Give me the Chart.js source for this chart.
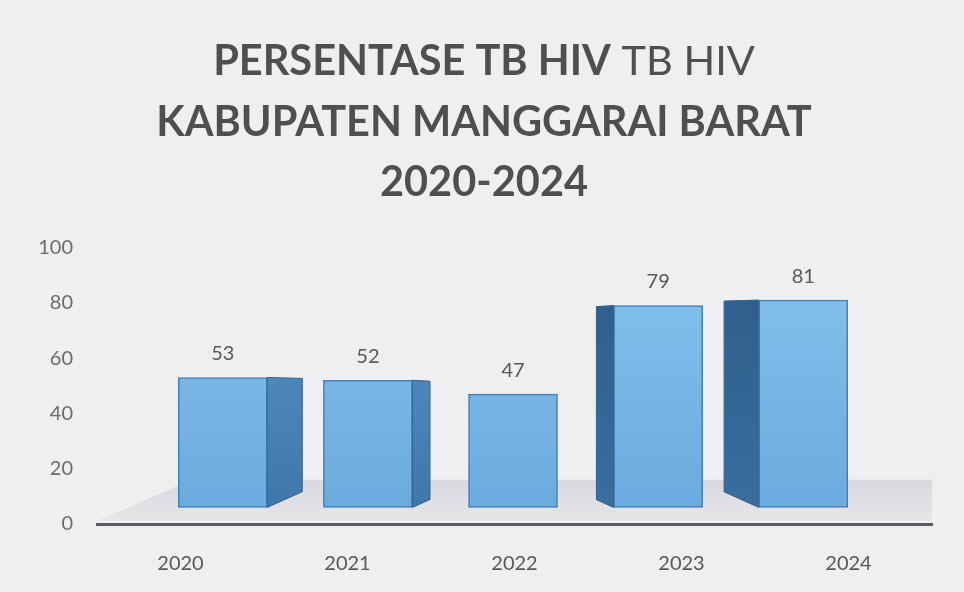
<!DOCTYPE html>
<html>
<head>
<meta charset="utf-8">
<script src="https://cdn.jsdelivr.net/npm/chart.js@4"></script>
<style>
  html,body{margin:0;padding:0;background:#efeff1;}
  #wrap{width:964px;height:592px;position:relative;}
</style>
</head>
<body>
<div id="wrap"><canvas id="c" width="964" height="592"></canvas></div>
<script>
const categories = ['2020', '2021', '2022', '2023', '2024'];
const values = [53, 52, 47, 79, 81];
const yTickValues = [0, 20, 40, 60, 80, 100];
const titleFirstBold = 'PERSENTASE TB HIV';
const titleFirstRegular = ' TB HIV';
const titleLines = ['KABUPATEN MANGGARAI BARAT', '2020-2024'];

const FONT = 'Lato, "Open Sans", sans-serif';
const TITLE_SIZE = 41.5;
const TITLE_COLOR = '#4f4f52';

const bgPlugin = {
  id: 'bg',
  beforeDraw(chart) {
    const ctx = chart.ctx;
    ctx.save();
    ctx.fillStyle = '#efeff1';
    ctx.fillRect(0, 0, chart.width, chart.height);
    ctx.restore();
  }
};

// first title line: bold part followed by a regular-weight part
const titleLinePlugin = {
  id: 'titleLine',
  afterDraw(chart) {
    const ctx = chart.ctx;
    const tb = chart.titleBlock;
    const cx = tb.left + tb.width / 2;
    const cy = tb.top + 32 + TITLE_SIZE * 1.45 / 2;
    ctx.save();
    ctx.textBaseline = 'middle';
    ctx.textAlign = 'left';
    const fb = 'bold ' + TITLE_SIZE + 'px ' + FONT;
    const fr = 'normal ' + TITLE_SIZE + 'px ' + FONT;
    ctx.font = fb; const wb = ctx.measureText(titleFirstBold).width;
    ctx.font = fr; const wr = ctx.measureText(titleFirstRegular).width;
    const x0 = cx - (wb + wr) / 2;
    ctx.fillStyle = TITLE_COLOR;
    ctx.font = fb; ctx.fillText(titleFirstBold, x0, cy);
    ctx.font = fr; ctx.fillText(titleFirstRegular, x0 + wb, cy);
    ctx.restore();
  }
};

const floorPlugin = {
  id: 'floor',
  beforeDatasetsDraw(chart) {
    const {ctx, chartArea, scales} = chart;
    const yb = scales.y.getPixelForValue(0) - 3;
    const yt = scales.y.getPixelForValue(16);
    ctx.save();
    const g = ctx.createLinearGradient(0, yt, 0, yb);
    g.addColorStop(0, '#d9d9dd');
    g.addColorStop(1, '#e6e6e9');
    ctx.fillStyle = g;
    ctx.beginPath();
    ctx.moveTo(chartArea.left, yb);
    ctx.lineTo(chartArea.left + 95, yt);
    ctx.lineTo(chartArea.right, yt);
    ctx.lineTo(chartArea.right, yb);
    ctx.closePath();
    ctx.fill();
    ctx.restore();
  }
};

const sidePlugin = {
  id: 'sides',
  afterDatasetsDraw(chart) {
    const {ctx, chartArea} = chart;
    const meta = chart.getDatasetMeta(0);
    const cx = (chartArea.left + chartArea.right) / 2;
    ctx.save();
    meta.data.forEach((bar, i) => {
      const p = bar.getProps(['x', 'y', 'base', 'width'], true);
      const d = (cx - p.x) * 0.12;
      if (Math.abs(d) < 3) return;
      const edge = d > 0 ? p.x + p.width / 2 : p.x - p.width / 2;
      const back = edge + d;
      const dy = Math.abs(d) * 0.45;
      const g = ctx.createLinearGradient(0, p.y, 0, p.base);
      if (d > 0) { g.addColorStop(0, '#4d86bb'); g.addColorStop(1, '#3f77aa'); }
      else { g.addColorStop(0, '#2f5f8c'); g.addColorStop(1, '#3a6e9e'); }
      ctx.fillStyle = g;
      ctx.strokeStyle = '#2f6190';
      ctx.lineWidth = 1;
      ctx.beginPath();
      ctx.moveTo(edge, p.y);
      ctx.lineTo(back, p.y + 1);
      ctx.lineTo(back, p.base - dy);
      ctx.lineTo(edge, p.base);
      ctx.closePath();
      ctx.fill();
      ctx.stroke();
    });
    // value labels
    ctx.fillStyle = '#585858';
    ctx.font = '20px ' + FONT;
    ctx.textAlign = 'center';
    ctx.textBaseline = 'middle';
    meta.data.forEach((bar, i) => {
      const p = bar.getProps(['x', 'y'], true);
      ctx.fillText(String(values[i]), p.x, p.y - 24);
    });
    ctx.restore();
  }
};

const ctx = document.getElementById('c').getContext('2d');
const faceGrad = (context) => {
  const chart = context.chart;
  const {chartArea} = chart;
  if (!chartArea) return '#6fb0e6';
  const g = chart.ctx.createLinearGradient(0, chartArea.top, 0, chartArea.bottom);
  g.addColorStop(0, '#86c3ee');
  g.addColorStop(1, '#6aa9de');
  return g;
};

new Chart(ctx, {
  type: 'bar',
  data: {
    labels: categories,
    datasets: [{
      data: values.map((v, i) => ({x: i, y: v})),
      xAxisID: 'xb',
      yAxisID: 'y',
      base: 6,
      backgroundColor: faceGrad,
      borderColor: '#3f7fba',
      borderWidth: 1.5,
      borderSkipped: false,
      barThickness: 89
    }]
  },
  plugins: [bgPlugin, floorPlugin, sidePlugin, titleLinePlugin],
  options: {
    responsive: false,
    animation: false,
    devicePixelRatio: 1,
    layout: { padding: { left: 36, right: 32, top: 0, bottom: 9 } },
    plugins: {
      legend: { display: false },
      tooltip: { enabled: false },
      title: {
        display: true,
        text: titleLines,
        color: TITLE_COLOR,
        font: { family: FONT, size: TITLE_SIZE, weight: 'bold', lineHeight: 1.45 },
        padding: { top: 32 + TITLE_SIZE * 1.45, bottom: 35 }
      }
    },
    scales: {
      y: {
        min: 0, max: 100,
        afterBuildTicks(scale) { scale.ticks = yTickValues.map(v => ({value: v})); },
        grid: { display: false },
        border: { display: false },
        ticks: { color: '#6b6b6b', font: { family: FONT, size: 20 }, padding: 16 },
        afterFit(scale) { scale.width = 61; }
      },
      x: {
        type: 'category',
        offset: true,
        grid: { display: false },
        border: { display: true, color: '#5b5b60', width: 3 },
        ticks: { color: '#585858', font: { family: FONT, size: 20 }, padding: 20 },
        afterFit(scale) { scale.height = 59; }
      },
      xb: {
        type: 'linear',
        display: false,
        offset: false,
        min: -0.8666,
        max: 4.887
      }
    }
  }
});
</script>
</body>
</html>
